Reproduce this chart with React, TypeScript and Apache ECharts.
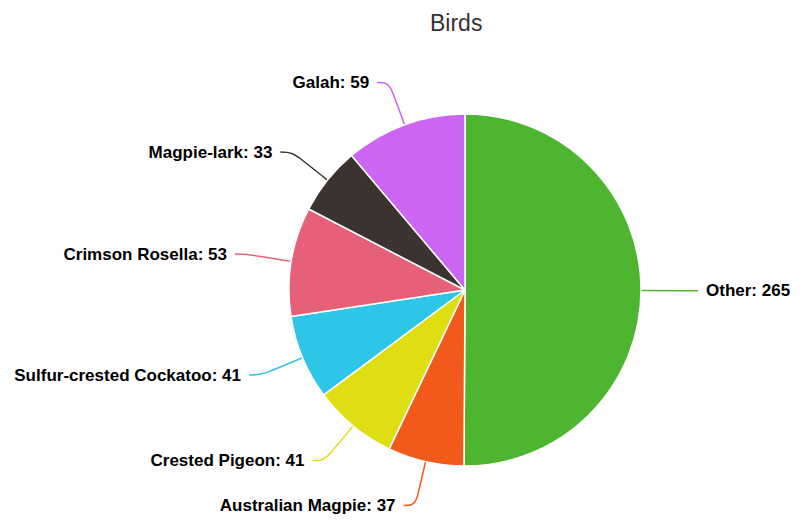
import React, { useEffect, useRef } from "react";
import * as echarts from "echarts";

const categories = [
  "Other",
  "Australian Magpie",
  "Crested Pigeon",
  "Sulfur-crested Cockatoo",
  "Crimson Rosella",
  "Magpie-lark",
  "Galah",
];
const values = [265, 37, 41, 41, 53, 33, 59];
const colors = ["#4db52f", "#f25a1b", "#dede12", "#2ec6e6", "#e6607a", "#3b3330", "#cc66f2"];

export default function App() {
  const ref = useRef<HTMLDivElement>(null);
  useEffect(() => {
    if (!ref.current) return;
    const chart = echarts.init(ref.current, undefined, { renderer: "svg" });
    chart.setOption({
      animation: false,
      backgroundColor: "#ffffff",
      title: {
        text: "Birds",
        left: 425,
        top: 6,
        textStyle: {
          fontFamily: "Liberation Sans, Arial, sans-serif",
          fontSize: 23,
          fontWeight: "normal",
          color: "#333333",
        },
      },
      series: [
        {
          type: "pie",
          center: [465, 290],
          radius: 176,
          startAngle: 90,
          clockwise: true,
          avoidLabelOverlap: true,
          data: categories.map((name, i) => ({
            name,
            value: values[i],
            itemStyle: { color: colors[i] },
          })),
          itemStyle: { borderColor: "#ffffff", borderWidth: 1.5 },
          label: {
            show: true,
            formatter: "{b}: {c}",
            fontFamily: "Liberation Sans, Arial, sans-serif",
            fontSize: 17,
            fontWeight: "bold",
            color: "#000000",
            distanceToLabelLine: 8,
            overflow: "none",
          },
          labelLine: {
            show: true,
            length: 45,
            length2: 12,
            smooth: 0.4,
            lineStyle: { width: 1.5 },
          },
          emphasis: { disabled: true },
        },
      ],
    });
    return () => chart.dispose();
  }, []);
  return (
    <div
      ref={ref}
      style={{ position: "fixed", left: 0, top: 0, width: 805, height: 529 }}
    />
  );
}
